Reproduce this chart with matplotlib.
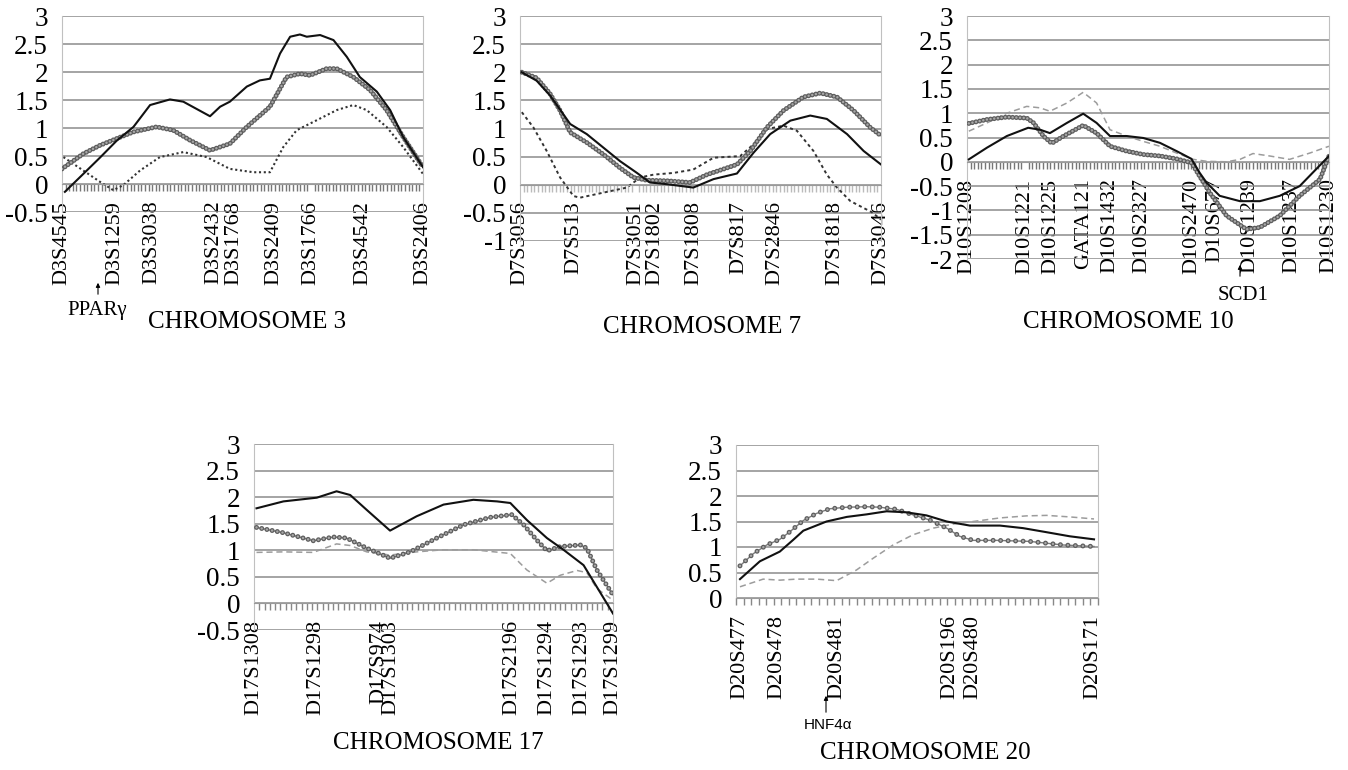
import numpy as np
import matplotlib
matplotlib.use('Agg')
import matplotlib.pyplot as plt
from matplotlib.ticker import MultipleLocator, FixedLocator

plt.rcParams['font.family'] = ['Liberation Serif', 'DejaVu Serif']

# ---- chromosome 3 ----
c3_markers = ['D3S4545', 'D3S1259', 'D3S3038', 'D3S2432', 'D3S1768',
              'D3S2409', 'D3S1766', 'D3S4542', 'D3S2406']
c3_marker_pos = [0, 14.7, 24.9, 42.2, 47.6, 58.7, 69.0, 83.4, 100]
c3_solid_x = [0.8, 5.9, 10.5, 15.1, 19.8, 24.4, 29.9, 33.6, 41.0, 43.8, 46.5, 51.2, 54.8,
              57.6, 60.4, 63.2, 65.9, 67.8, 71.5, 75.2, 78.9, 82.5, 87.2, 90.9, 94.5, 100]
c3_solid_y = [-0.14, 0.18, 0.47, 0.77, 1.02, 1.41, 1.51, 1.47, 1.21, 1.38, 1.47, 1.74, 1.85,
              1.88, 2.33, 2.63, 2.67, 2.63, 2.66, 2.57, 2.27, 1.91, 1.65, 1.32, 0.84, 0.30]
c3_circ_x = [0, 5.9, 10.5, 15.1, 19.8, 26.2, 30.8, 35.5, 41.0, 46.5, 51.2, 57.6, 62.2,
             65.9, 68.7, 73.3, 76.1, 80.7, 85.3, 89.9, 94.5, 100]
c3_circ_y = [0.27, 0.54, 0.69, 0.81, 0.93, 1.02, 0.96, 0.78, 0.60, 0.72, 1.02, 1.38, 1.91,
             1.97, 1.94, 2.06, 2.06, 1.91, 1.68, 1.32, 0.84, 0.30]
c3_dash_x = [0.4, 5.9, 10.5, 14.2, 17.0, 21.6, 27.1, 33.6, 40.1, 46.5, 53.0, 57.6, 61.3,
             65.0, 70.6, 76.1, 80.7, 84.4, 89.9, 94.5, 100]
c3_dash_y = [0.48, 0.24, 0.04, -0.11, -0.02, 0.24, 0.48, 0.57, 0.48, 0.27, 0.21, 0.21, 0.66,
             0.96, 1.14, 1.32, 1.41, 1.32, 1.02, 0.66, 0.18]

# ---- chromosome 7 ----
c7_markers = ['D7S3056', 'D7S513', 'D7S3051', 'D7S1802', 'D7S1808',
              'D7S817', 'D7S2846', 'D7S1818', 'D7S3046']
c7_marker_pos = [0, 14.9, 32.0, 37.3, 48.2, 60.6, 70.5, 87.2, 100]
c7_solid_x = [0.5, 4.6, 8.3, 13.9, 18.5, 23.1, 27.7, 32.4, 36.0, 40.7, 48.0, 53.6, 60.1,
              64.7, 69.3, 74.9, 80.4, 85.0, 90.6, 95.2, 100]
c7_solid_y = [2.0, 1.85, 1.59, 1.08, 0.90, 0.66, 0.42, 0.21, 0.04, 0.01, -0.05, 0.10, 0.20,
              0.57, 0.90, 1.14, 1.23, 1.17, 0.90, 0.60, 0.36]
c7_circ_x = [0.5, 4.6, 8.3, 11.1, 13.9, 18.5, 23.1, 27.7, 31.4, 35.1, 40.7, 47.1, 51.8,
             60.1, 63.8, 68.4, 73.0, 78.5, 83.2, 87.8, 92.4, 97.0, 100]
c7_circ_y = [2.0, 1.9, 1.62, 1.32, 0.93, 0.75, 0.54, 0.30, 0.13, 0.08, 0.07, 0.04, 0.18,
             0.36, 0.60, 1.02, 1.32, 1.56, 1.63, 1.56, 1.32, 1.02, 0.87]
c7_dash_x = [0.5, 3.7, 7.4, 11.1, 14.8, 16.6, 23.1, 29.6, 33.3, 37.0, 42.5, 48.0, 53.6,
             61.0, 64.7, 68.4, 73.0, 76.7, 81.3, 85.0, 87.8, 91.5, 97.5, 100]
c7_dash_y = [1.29, 1.02, 0.60, 0.13, -0.20, -0.23, -0.14, -0.05, 0.13, 0.18, 0.21, 0.27, 0.48,
             0.51, 0.72, 0.99, 1.05, 0.96, 0.60, 0.18, -0.05, -0.29, -0.49, -0.62]

# ---- chromosome 10 ----
c10_markers = ['D10S1208', 'D10S1221', 'D10S1225', 'GATA121', 'D10S1432', 'D10S2327',
               'D10S2470', 'D10S677', 'D10S1239', 'D10S1237', 'D10S1230']
c10_marker_pos = [0, 16.0, 23.2, 32.3, 39.6, 48.3, 62.1, 68.5, 78.2, 89.7, 100]
c10_solid_x = [0.5, 5.5, 11.0, 16.9, 20.2, 22.9, 27.6, 32.1, 35.8, 39.5, 44.1, 48.7, 53.3,
               57.9, 62.0, 64.3, 66.2, 69.8, 75.4, 80.9, 86.4, 91.9, 100]
c10_solid_y = [0.05, 0.29, 0.53, 0.70, 0.66, 0.59, 0.80, 0.99, 0.80, 0.53, 0.53, 0.49, 0.39,
               0.22, 0.06, -0.23, -0.43, -0.70, -0.81, -0.81, -0.70, -0.50, 0.12]
c10_circ_x = [0.5, 5.5, 11.0, 16.5, 18.4, 21.1, 23.4, 26.7, 32.1, 35.8, 39.5, 44.1, 48.7,
              53.3, 57.9, 62.0, 67.1, 71.7, 77.2, 80.9, 86.4, 91.9, 97.5, 100]
c10_circ_y = [0.79, 0.87, 0.92, 0.90, 0.80, 0.53, 0.38, 0.53, 0.75, 0.59, 0.32, 0.22, 0.15,
              0.12, 0.06, -0.02, -0.64, -1.11, -1.39, -1.35, -1.11, -0.70, -0.36, 0.12]
c10_dash_x = [0.5, 5.5, 11.0, 16.5, 20.2, 22.9, 27.6, 32.1, 35.8, 39.5, 44.1, 48.7, 53.3,
              57.9, 62.5, 66.2, 71.7, 75.4, 79.0, 83.6, 89.1, 94.7, 100]
c10_dash_y = [0.63, 0.80, 1.00, 1.14, 1.11, 1.04, 1.21, 1.43, 1.21, 0.66, 0.53, 0.42, 0.32,
              0.18, 0.05, 0.01, 0.0, 0.05, 0.17, 0.12, 0.05, 0.18, 0.32]

# ---- chromosome 17 ----
c17_markers = ['D17S1308', 'D17S1298', 'D17S974', 'D17S1303', 'D17S2196',
               'D17S1294', 'D17S1293', 'D17S1299']
c17_marker_pos = [0, 17.1, 34.8, 38.0, 71.9, 81.7, 91.4, 100]
c17_solid_x = [0.7, 8.2, 17.5, 23.0, 26.8, 31.4, 37.9, 45.3, 52.8, 61.1, 67.7, 71.4, 76.0,
               81.6, 86.2, 91.8, 95.5, 100]
c17_solid_y = [1.79, 1.92, 1.99, 2.11, 2.04, 1.76, 1.37, 1.64, 1.86, 1.95, 1.92, 1.89, 1.57,
               1.23, 1.01, 0.72, 0.31, -0.19]
c17_circ_x = [0.7, 8.2, 16.5, 22.1, 25.8, 31.4, 37.9, 43.5, 50.9, 58.4, 65.8, 71.8, 75.1,
              78.8, 81.6, 85.3, 90.9, 92.7, 95.5, 100]
c17_circ_y = [1.43, 1.33, 1.18, 1.25, 1.23, 1.04, 0.85, 0.97, 1.23, 1.48, 1.62, 1.67, 1.48,
              1.19, 0.99, 1.07, 1.10, 1.04, 0.63, 0.16]
c17_dash_x = [0.7, 8.2, 16.5, 23.0, 26.8, 31.4, 37.9, 45.3, 52.8, 61.1, 71.4, 76.0, 81.6,
              85.3, 90.0, 92.7, 95.5, 100]
c17_dash_y = [0.96, 0.97, 0.96, 1.12, 1.09, 0.97, 0.91, 0.97, 1.01, 1.01, 0.94, 0.63, 0.38,
              0.53, 0.62, 0.58, 0.28, 0.06]

# ---- chromosome 20 ----
c20_markers = ['D20S477', 'D20S478', 'D20S481', 'D20S196', 'D20S480', 'D20S171']
c20_marker_pos = [1.0, 11.4, 27.8, 59.1, 65.5, 98.6]
c20_solid_x = [1.1, 6.6, 12.1, 15.8, 18.6, 25.0, 30.6, 36.1, 41.6, 47.1, 52.6, 58.2, 64.6,
               72.9, 79.3, 85.8, 92.2, 98.9]
c20_solid_y = [0.37, 0.72, 0.91, 1.14, 1.32, 1.50, 1.59, 1.64, 1.70, 1.68, 1.62, 1.50, 1.42,
               1.42, 1.37, 1.29, 1.21, 1.15]
c20_circ_x = [1.1, 4.8, 8.5, 12.1, 14.9, 18.6, 22.3, 25.9, 30.6, 36.1, 39.7, 44.3, 48.9,
              53.5, 58.2, 61.8, 65.5, 72.0, 81.1, 90.3, 98.9]
c20_circ_y = [0.63, 0.87, 1.04, 1.15, 1.30, 1.52, 1.66, 1.75, 1.78, 1.79, 1.78, 1.74, 1.63,
              1.53, 1.37, 1.21, 1.13, 1.13, 1.11, 1.04, 1.01]
c20_dash_x = [1.1, 7.5, 12.1, 16.7, 22.3, 27.8, 33.3, 37.9, 43.4, 48.9, 54.5, 60.0, 65.5,
              72.9, 80.2, 85.8, 92.2, 98.9]
c20_dash_y = [0.22, 0.37, 0.35, 0.37, 0.37, 0.34, 0.55, 0.78, 1.04, 1.24, 1.37, 1.45, 1.50,
              1.57, 1.61, 1.62, 1.59, 1.55]

W, H = 1348, 770
fig = plt.figure(figsize=(W / 100, H / 100), dpi=100)


def panel(l, t, r, b, ymin, markers, mpos, solid, circ, dash, dash_style,
          step, gap_px, tick_col):
    ax = fig.add_axes([l / W, 1 - b / H, (r - l) / W, (b - t) / H])
    ax.set_xlim(0, 100)
    ax.set_ylim(ymin, 3)
    yt = np.arange(ymin, 3.01, 0.5)
    ax.set_yticks(yt)
    ax.set_yticklabels(['%g' % v for v in yt])
    ax.grid(axis='y', color='#8c8c8c', lw=1.1)
    ax.set_axisbelow(True)
    ax.spines['top'].set_visible(False)
    for s in ('left', 'right'):
        ax.spines[s].set_color('#c0c0c0')
    ax.spines['bottom'].set_position(('data', 0))
    ax.spines['bottom'].set_color('#9a9a9a')
    ax.tick_params(axis='y', length=0, pad=10, labelsize=19.5)
    ax.xaxis.set_major_locator(FixedLocator(mpos))
    ax.set_xticklabels(markers, rotation=90, fontsize=16)
    ax.xaxis.set_minor_locator(MultipleLocator(step))
    ax.tick_params(axis='x', which='major', length=0, pad=12)
    ax.tick_params(axis='x', which='minor', length=5, width=1, color=tick_col)

    ax.plot(*solid, color='#111111', lw=1.5, zorder=4)
    # grey series drawn with round dots along the path
    period = gap_px * 0.72
    ax.plot(*circ, color='#7a7a7a', lw=1.0, zorder=3)
    ax.plot(*circ, color='#5e5e5e', lw=3.6, zorder=3, dash_capstyle='round',
            ls=(0, (0.001, period / 3.6 - 0.001)))
    ax.plot(*circ, color='#a8a8a8', lw=1.8, zorder=3, dash_capstyle='round',
            ls=(0, (0.001, period / 1.8 - 0.001)))
    ax.plot(*dash, zorder=2, **dash_style)
    return ax


dark_dots = dict(color='#333333', lw=1.5, ls=(0, (1.0, 1.3)))
dark_dash = dict(color='#333333', lw=1.4, ls=(0, (1.6, 1.6)))
light_dash = dict(color='#9c9c9c', lw=1.1, ls=(0, (4.0, 2.5)))

panel(62, 16, 423, 212, -0.5, c3_markers, c3_marker_pos,
      (c3_solid_x, c3_solid_y), (c3_circ_x, c3_circ_y), (c3_dash_x, c3_dash_y),
      dark_dots, 1.0, 3.7, '#777777')
panel(520, 16, 881, 241, -1, c7_markers, c7_marker_pos,
      (c7_solid_x, c7_solid_y), (c7_circ_x, c7_circ_y), (c7_dash_x, c7_dash_y),
      dark_dash, 1.0, 3.7, '#bbbbbb')
panel(967, 16, 1329, 259, -2, c10_markers, c10_marker_pos,
      (c10_solid_x, c10_solid_y), (c10_circ_x, c10_circ_y), (c10_dash_x, c10_dash_y),
      light_dash, 1.0, 3.7, '#777777')
panel(254, 444, 613, 630, -0.5, c17_markers, c17_marker_pos,
      (c17_solid_x, c17_solid_y), (c17_circ_x, c17_circ_y), (c17_dash_x, c17_dash_y),
      light_dash, 100 / 68, 5.3, '#888888')
panel(736, 445, 1098, 598, 0, c20_markers, c20_marker_pos,
      (c20_solid_x, c20_solid_y), (c20_circ_x, c20_circ_y), (c20_dash_x, c20_dash_y),
      light_dash, 100 / 48, 7.5, '#888888')


def ftext(x, y, s, **kw):
    fig.text(x / W, 1 - y / H, s, ha='center', va='center', **kw)


def farrow(x, y0, y1):
    fig.add_artist(matplotlib.patches.FancyArrowPatch(
        (x / W, 1 - y0 / H), (x / W, 1 - y1 / H), transform=fig.transFigure,
        arrowstyle='-|>', mutation_scale=6, lw=0.8, color='black'))


ftext(247, 322, 'CHROMOSOME 3', fontsize=18)
ftext(702, 327, 'CHROMOSOME 7', fontsize=18)
ftext(1128, 322, 'CHROMOSOME 10', fontsize=18)
ftext(438, 743, 'CHROMOSOME 17', fontsize=18)
ftext(925, 753, 'CHROMOSOME 20', fontsize=18)

ftext(97, 310, 'PPARγ', fontsize=15)
farrow(98, 297, 280)
ftext(1243, 295, 'SCD1', fontsize=15)
farrow(1240, 279, 262)
ftext(828, 725, 'HNF4α', fontsize=11, family=['Liberation Sans', 'DejaVu Sans'])
farrow(826, 715, 693)

fig.savefig('out.png', dpi=100)
